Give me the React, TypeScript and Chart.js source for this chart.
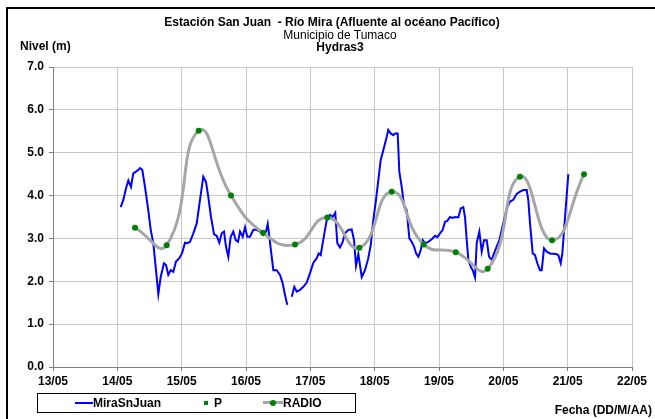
import React, { useEffect, useRef } from "react";
import { Chart, registerables } from "chart.js";

Chart.register(...registerables);

// Hourly-ish level readings (day of May, metres)
const blueDays = [14.052,14.093,14.135,14.171,14.212,14.248,14.290,14.326,14.352,14.388,14.430,14.481,14.519,14.559,14.601,14.637,14.674,14.725,14.757,14.792,14.830,14.870,14.912,14.963,15.005,15.052,15.088,15.130,15.181,15.234,15.285,15.336,15.378,15.414,15.456,15.503,15.545,15.585,15.622,15.658,15.689,15.725,15.762,15.803,15.840,15.876,15.907,15.949,15.985,16.020,16.062,16.114,16.167,16.218,16.269,16.311,16.338,16.362,16.400,16.425,16.477,16.529,16.571,16.606,16.642,16.680,16.711,16.751,16.788,16.840,16.891,16.944,16.995,17.046,17.099,17.130,17.161,17.192,17.228,17.264,17.306,17.348,17.388,17.419,17.461,17.503,17.539,17.590,17.643,17.679,17.710,17.746,17.799,17.850,17.901,17.939,17.979,18.021,18.057,18.094,18.134,18.176,18.212,18.249,18.290,18.316,18.358,18.383,18.420,18.456,18.498,18.539,18.576,18.612,18.643,18.679,18.716,18.747,18.783,18.834,18.887,18.938,18.974,19.016,19.058,19.094,19.129,19.171,19.213,19.249,19.300,19.338,19.378,19.404,19.431,19.456,19.493,19.524,19.560,19.586,19.627,19.664,19.700,19.742,19.778,19.820,19.855,19.897,19.938,19.975,20.011,20.053,20.104,20.155,20.208,20.259,20.311,20.363,20.388,20.415,20.457,20.493,20.528,20.570,20.597,20.632,20.674,20.726,20.777,20.830,20.855,20.892,20.917,20.959,21.010];
const blueLevels = [3.73,3.9,4.17,4.35,4.2,4.52,4.56,4.6,4.64,4.6,4.2,3.66,3.2,2.89,2.26,1.7,2.1,2.42,2.38,2.15,2.26,2.22,2.46,2.54,2.65,2.9,2.89,2.92,3.12,3.35,3.9,4.44,4.32,3.97,3.5,3.1,3.06,2.9,3.12,3.16,2.81,2.57,3.04,3.16,2.96,2.92,3.16,3.04,3.26,3.04,3.04,3.2,3.2,3.16,3.08,3.16,3.34,3.04,2.57,2.26,2.26,2.15,1.95,1.68,1.45,null,1.64,1.87,1.76,1.8,1.87,1.97,2.19,2.43,2.54,2.65,2.61,2.89,3.2,3.5,3.55,3.5,3.6,2.89,2.79,2.92,3.12,3.2,3.21,2.96,2.36,2.64,2.1,2.26,2.54,2.85,3.43,3.9,4.36,4.83,5.06,5.3,5.53,5.45,5.41,5.45,5.45,4.56,4.21,3.78,3.66,3.0,2.92,2.81,2.65,2.57,2.73,2.96,2.89,2.92,2.98,3.06,3.03,3.12,3.2,3.39,3.41,3.5,3.48,3.5,3.49,3.7,3.73,3.5,2.96,2.5,2.34,2.26,2.09,2.89,3.16,2.69,2.96,2.96,2.57,2.5,2.65,2.81,2.96,3.2,3.43,3.7,3.86,3.9,4.04,4.09,4.13,4.13,3.9,3.35,2.65,2.61,2.42,2.26,2.26,2.77,2.69,2.65,2.64,2.63,2.61,2.42,2.65,3.5,4.5];

// Predicted (P / RADIO) points
const pDays = [14.275,14.767,15.265,15.767,16.264,16.762,17.264,17.762,18.265,18.762,19.26,19.757,20.259,20.757,21.254];
const pLevels = [3.25,2.84,5.51,4.0,3.13,2.86,3.49,2.78,4.09,2.86,2.68,2.29,4.44,2.96,4.5];

const xTickMin = 13;
const xTickMax = 22;
const yTickMin = 0;
const yTickMax = 7;
const monthLabel = "05";

const FONT = "'Liberation Sans', Arial, sans-serif";

export default function App() {
  const canvasRef = useRef<HTMLCanvasElement | null>(null);

  useEffect(() => {
    const canvas = canvasRef.current;
    if (!canvas) return;
    const blueData = blueDays.map((d, i) => ({ x: d, y: blueLevels[i] }));
    const pData = pDays.map((d, i) => ({ x: d, y: pLevels[i] }));
    const tickFont = { family: FONT, size: 12, weight: "bold" as const };
    const chart = new Chart(canvas, {
      type: "line",
      data: {
        datasets: [
          {
            label: "P",
            data: pData,
            showLine: false,
            pointStyle: "rect",
            pointRadius: 2,
            pointBackgroundColor: "#008000",
            pointBorderColor: "#008000",
            borderWidth: 0,
            order: 1,
          },
          {
            label: "RADIO",
            data: pData,
            borderColor: "#a6a6a6",
            borderWidth: 3,
            tension: 0.5,
            pointRadius: 3,
            pointBackgroundColor: "#008000",
            pointBorderColor: "#008000",
            pointBorderWidth: 0,
            order: 2,
          },
          {
            label: "MiraSnJuan",
            data: blueData,
            borderColor: "#0000ff",
            borderWidth: 2,
            pointRadius: 0,
            tension: 0,
            spanGaps: false,
            order: 3,
          },
        ],
      },
      options: {
        animation: false,
        responsive: false,
        maintainAspectRatio: false,
        layout: { padding: { left: 0, right: 23, top: 67, bottom: 22 } },
        plugins: { legend: { display: false }, tooltip: { enabled: false }, title: { display: false } },
        scales: {
          x: {
            type: "linear",
            min: xTickMin,
            max: xTickMax,
            afterFit: (s: any) => { s.height = 30; },
            ticks: {
              stepSize: 1,
              color: "#000",
              font: tickFont,
              padding: 3,
              maxRotation: 0,
              callback: (v: any) => `${String(v).padStart(2, "0")}/${monthLabel}`,
            },
            grid: { color: "#c8c8c8", tickColor: "#808080", tickLength: 4, lineWidth: 1 },
            border: { color: "#808080", width: 1 },
          },
          y: {
            min: yTickMin,
            max: yTickMax,
            afterFit: (s: any) => { s.width = 53; },
            ticks: {
              stepSize: 1,
              color: "#000",
              font: tickFont,
              padding: 5,
              callback: (v: any) => Number(v).toFixed(1),
            },
            grid: { color: "#c8c8c8", tickColor: "#808080", tickLength: 4, lineWidth: 1 },
            border: { color: "#808080", width: 1 },
          },
        },
      },
    });
    return () => chart.destroy();
  }, []);

  const base: React.CSSProperties = {
    position: "absolute",
    fontFamily: FONT,
    fontSize: 12,
    lineHeight: "14px",
    color: "#000",
    whiteSpace: "nowrap",
  };

  return (
    <div style={{ position: "absolute", left: 0, top: 0, width: 655, height: 419, overflow: "hidden", background: "#fff" }}>
      <div style={{ position: "absolute", left: 6, top: 7, width: 700, height: 500, borderTop: "2px solid #000", borderLeft: "2px solid #000" }} />
      <canvas ref={canvasRef} width={655} height={419} style={{ position: "absolute", left: 0, top: 0, width: 655, height: 419 }} />
      <div style={{ ...base, left: 332, top: 15, transform: "translateX(-50%)", fontWeight: "bold" }}>
        Estación San Juan&nbsp; - Río Mira (Afluente al océano Pacífico)
      </div>
      <div style={{ ...base, left: 340, top: 28, transform: "translateX(-50%)" }}>Municipio de Tumaco</div>
      <div style={{ ...base, left: 340, top: 40, transform: "translateX(-50%)", fontWeight: "bold" }}>Hydras3</div>
      <div style={{ ...base, left: 20, top: 39, fontWeight: "bold" }}>Nivel (m)</div>
      <div style={{ ...base, right: 3, top: 403, fontWeight: "bold" }}>Fecha (DD/M/AA)</div>
      <div style={{ position: "absolute", left: 37, top: 393, width: 317, height: 18, border: "1px solid #000", background: "#fff" }}>
        <div style={{ position: "absolute", left: 37, top: 8, width: 18, height: 2, background: "#0000ff" }} />
        <div style={{ ...base, left: 55, top: 2, fontWeight: "bold" }}>MiraSnJuan</div>
        <div style={{ position: "absolute", left: 166, top: 7, width: 4, height: 4, background: "#008000" }} />
        <div style={{ ...base, left: 176, top: 2, fontWeight: "bold" }}>P</div>
        <div style={{ position: "absolute", left: 225, top: 7, width: 20, height: 3, background: "#a6a6a6" }} />
        <div style={{ position: "absolute", left: 232, top: 6, width: 6, height: 6, borderRadius: 3, background: "#008000" }} />
        <div style={{ ...base, left: 245, top: 2, fontWeight: "bold" }}>RADIO</div>
      </div>
    </div>
  );
}
